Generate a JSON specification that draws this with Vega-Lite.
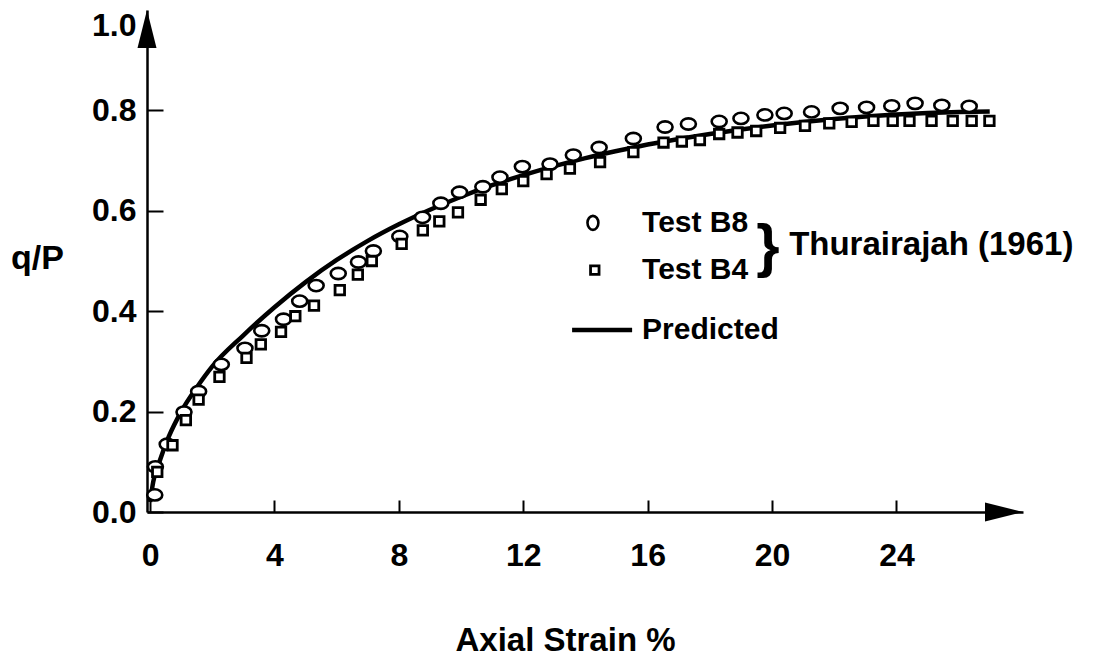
{
  "$schema": "https://vega.github.io/schema/vega-lite/v6.json",
  "width": 876,
  "height": 502,
  "autosize": {"type": "none"},
  "padding": {"left": 147, "top": 10, "right": 71, "bottom": 148},
  "background": "white",
  "config": {"view": {"stroke": null}, "font": "Liberation Sans"},
  "datasets": {
    "b8": [
      {"x": 0.15, "y": 0.034}, {"x": 0.17, "y": 0.09}, {"x": 0.55, "y": 0.135}, {"x": 1.09, "y": 0.199},
      {"x": 1.56, "y": 0.24}, {"x": 2.29, "y": 0.294}, {"x": 3.05, "y": 0.326}, {"x": 3.59, "y": 0.361},
      {"x": 4.29, "y": 0.384}, {"x": 4.81, "y": 0.42}, {"x": 5.34, "y": 0.451}, {"x": 6.05, "y": 0.475},
      {"x": 6.7, "y": 0.498}, {"x": 7.18, "y": 0.52}, {"x": 8.03, "y": 0.549}, {"x": 8.76, "y": 0.587},
      {"x": 9.35, "y": 0.615}, {"x": 9.95, "y": 0.637}, {"x": 10.7, "y": 0.648}, {"x": 11.25, "y": 0.667},
      {"x": 11.97, "y": 0.688}, {"x": 12.86, "y": 0.693}, {"x": 13.61, "y": 0.711}, {"x": 14.44, "y": 0.726},
      {"x": 15.54, "y": 0.744}, {"x": 16.56, "y": 0.767}, {"x": 17.31, "y": 0.773}, {"x": 18.3, "y": 0.778},
      {"x": 19.0, "y": 0.784}, {"x": 19.77, "y": 0.791}, {"x": 20.39, "y": 0.794}, {"x": 21.27, "y": 0.797},
      {"x": 22.19, "y": 0.804}, {"x": 23.04, "y": 0.806}, {"x": 23.85, "y": 0.809}, {"x": 24.6, "y": 0.814},
      {"x": 25.46, "y": 0.81}, {"x": 26.34, "y": 0.808}
    ],
    "b4": [
      {"x": 0.23, "y": 0.08}, {"x": 0.72, "y": 0.133}, {"x": 1.15, "y": 0.183}, {"x": 1.56, "y": 0.224},
      {"x": 2.23, "y": 0.269}, {"x": 3.1, "y": 0.307}, {"x": 3.56, "y": 0.334}, {"x": 4.21, "y": 0.359},
      {"x": 4.67, "y": 0.39}, {"x": 5.27, "y": 0.411}, {"x": 6.1, "y": 0.442}, {"x": 6.68, "y": 0.473},
      {"x": 7.13, "y": 0.5}, {"x": 8.09, "y": 0.534}, {"x": 8.77, "y": 0.561}, {"x": 9.3, "y": 0.579},
      {"x": 9.9, "y": 0.597}, {"x": 10.63, "y": 0.622}, {"x": 11.31, "y": 0.643}, {"x": 12.0, "y": 0.659},
      {"x": 12.75, "y": 0.673}, {"x": 13.5, "y": 0.684}, {"x": 14.47, "y": 0.697}, {"x": 15.54, "y": 0.717},
      {"x": 16.51, "y": 0.736}, {"x": 17.1, "y": 0.738}, {"x": 17.68, "y": 0.741}, {"x": 18.3, "y": 0.753},
      {"x": 18.89, "y": 0.756}, {"x": 19.49, "y": 0.759}, {"x": 20.26, "y": 0.765}, {"x": 21.06, "y": 0.769},
      {"x": 21.84, "y": 0.774}, {"x": 22.56, "y": 0.777}, {"x": 23.26, "y": 0.779}, {"x": 23.88, "y": 0.779},
      {"x": 24.42, "y": 0.779}, {"x": 25.13, "y": 0.779}, {"x": 25.81, "y": 0.779}, {"x": 26.42, "y": 0.779},
      {"x": 26.99, "y": 0.779}
    ],
    "pred": [
      {"x": 0.0, "y": 0.02}, {"x": 0.1, "y": 0.06}, {"x": 0.3, "y": 0.1}, {"x": 0.6, "y": 0.15},
      {"x": 1.0, "y": 0.2}, {"x": 1.5, "y": 0.248}, {"x": 2.0, "y": 0.29}, {"x": 3.0, "y": 0.352},
      {"x": 4.0, "y": 0.408}, {"x": 5.0, "y": 0.458}, {"x": 6.0, "y": 0.502}, {"x": 7.0, "y": 0.54},
      {"x": 8.0, "y": 0.573}, {"x": 9.0, "y": 0.602}, {"x": 10.0, "y": 0.628}, {"x": 11.0, "y": 0.651},
      {"x": 12.0, "y": 0.671}, {"x": 13.0, "y": 0.689}, {"x": 14.0, "y": 0.705}, {"x": 15.0, "y": 0.719},
      {"x": 16.0, "y": 0.732}, {"x": 17.0, "y": 0.743}, {"x": 18.0, "y": 0.753}, {"x": 19.0, "y": 0.762},
      {"x": 20.0, "y": 0.77}, {"x": 21.0, "y": 0.777}, {"x": 22.0, "y": 0.783}, {"x": 23.0, "y": 0.788},
      {"x": 24.0, "y": 0.792}, {"x": 25.0, "y": 0.795}, {"x": 26.0, "y": 0.797}, {"x": 27.0, "y": 0.798}
    ],
    "notes": [
      {"x": 15.82, "y": 0.576, "label": "Test B8"},
      {"x": 15.82, "y": 0.482, "label": "Test B4"},
      {"x": 15.82, "y": 0.3625, "label": "Predicted"}
    ]
  },
  "encoding": {
    "x": {
      "field": "x", "type": "quantitative",
      "scale": {"domain": [-0.1, 28.07], "nice": false, "zero": false},
      "axis": {
        "values": [0, 4, 8, 12, 16, 20, 24], "format": "d", "grid": false,
        "domainColor": "black", "domainWidth": 2.5,
        "tickColor": "black", "tickSize": -12, "tickWidth": 2,
        "labelFont": "Liberation Sans", "labelFontWeight": "bold", "labelFontSize": 32, "labelColor": "black",
        "labelPadding": 40, "labelFlush": false, "labelOverlap": false, "labelBound": false,
        "title": "Axial Strain %", "titleFont": "Liberation Sans", "titleFontWeight": "bold", "titleFontSize": 33,
        "titleColor": "black", "titleX": 418, "titleY": 128, "titleAlign": "center", "titleBaseline": "middle"
      }
    },
    "y": {
      "field": "y", "type": "quantitative",
      "scale": {"domain": [0, 1], "nice": false, "zero": false},
      "axis": {
        "values": [0, 0.2, 0.4, 0.6, 0.8, 1.0], "format": ".1f", "grid": false,
        "domainColor": "black", "domainWidth": 2.5,
        "tickColor": "black", "tickSize": -16, "tickWidth": 2,
        "tickOpacity": {"condition": {"test": "datum.value === 1", "value": 0}, "value": 1},
        "labelFont": "Liberation Sans", "labelFontWeight": "bold", "labelFontSize": 32, "labelColor": "black",
        "labelBaseline": {"condition": {"test": "datum.value === 1", "value": "top"}, "value": "middle"},
        "labelPadding": 27, "labelFlush": false, "labelOverlap": false, "labelBound": false,
        "title": "q/P", "titleFont": "Liberation Sans", "titleFontWeight": "bold", "titleFontSize": 34,
        "titleColor": "black", "titleAngle": 0, "titleX": -110, "titleY": 248, "titleAlign": "center", "titleBaseline": "middle"
      }
    }
  },
  "layer": [
    {
      "data": {"name": "pred"},
      "mark": {"type": "line", "color": "black", "strokeWidth": 4.5, "interpolate": "monotone"}
    },
    {
      "data": {"name": "b8"},
      "mark": {"type": "point", "shape": "M-1,0A1,0.75 0 1,1 1,0A1,0.75 0 1,1 -1,0Z", "size": 225,
               "filled": true, "fill": "white", "stroke": "black", "strokeWidth": 2.6, "opacity": 1}
    },
    {
      "data": {"name": "b4"},
      "mark": {"type": "point", "shape": "square", "size": 90,
               "filled": true, "fill": "white", "stroke": "black", "strokeWidth": 2.8, "opacity": 1}
    },
    {
      "data": {"values": [{"x": 14.24, "y": 0.576}]},
      "mark": {"type": "point", "shape": "M0,-1A0.78,1 0 1,1 0,1A0.78,1 0 1,1 0,-1Z", "size": 196,
               "filled": true, "fill": "white", "stroke": "black", "strokeWidth": 2.6, "opacity": 1}
    },
    {
      "data": {"values": [{"x": 14.3, "y": 0.482}]},
      "mark": {"type": "point", "shape": "square", "size": 72,
               "filled": true, "fill": "white", "stroke": "black", "strokeWidth": 2.8, "opacity": 1}
    },
    {
      "data": {"values": [{"x": 13.57, "x2": 15.5, "y": 0.3625}]},
      "mark": {"type": "rule", "color": "black", "strokeWidth": 4.5},
      "encoding": {"x2": {"field": "x2"}}
    },
    {
      "data": {"name": "notes"},
      "mark": {"type": "text", "align": "left", "baseline": "middle", "font": "Liberation Sans",
               "fontWeight": "bold", "fontSize": 30, "color": "black"},
      "encoding": {"text": {"field": "label"}}
    },
    {
      "data": {"values": [{"x": 20.55, "y": 0.532, "label": "Thurairajah (1961)"}]},
      "mark": {"type": "text", "align": "left", "baseline": "middle", "font": "Liberation Sans",
               "fontWeight": "bold", "fontSize": 33, "color": "black"},
      "encoding": {"text": {"field": "label"}}
    },
    {
      "data": {"values": [{"x": 19.87, "y": 0.526, "label": "}"}]},
      "mark": {"type": "text", "align": "center", "baseline": "middle", "font": "Liberation Sans",
               "fontWeight": "bold", "fontSize": 60, "color": "black"},
      "encoding": {"text": {"field": "label"}}
    },
    {
      "data": {"values": [{"x": -0.1, "y": 1}]},
      "mark": {"type": "point", "shape": "M0,0L0.5,2L-0.5,2Z", "size": 1444, "filled": true,
               "color": "black", "opacity": 1, "strokeWidth": 0}
    },
    {
      "data": {"values": [{"x": 28.07, "y": 0}]},
      "mark": {"type": "point", "shape": "M0,0L-2,-0.5L-2,0.5Z", "size": 1444, "filled": true,
               "color": "black", "opacity": 1, "strokeWidth": 0}
    }
  ]
}
